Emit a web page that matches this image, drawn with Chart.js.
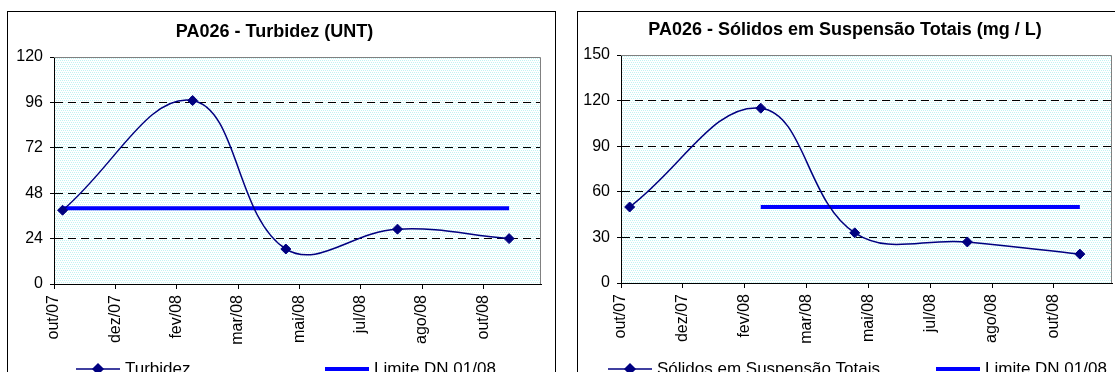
<!DOCTYPE html>
<html lang="pt-BR">
<head>
<meta charset="UTF-8">
<title>PA026 - Turbidez e Sólidos em Suspensão Totais</title>
<script src="https://cdn.jsdelivr.net/npm/chart.js@4.4.1/dist/chart.umd.min.js"></script>
<style>
    html, body {
        margin: 0;
        padding: 0;
        width: 1115px;
        height: 372px;
        overflow: hidden;
        background: #ffffff;
    }

    .chart-box {
        position: absolute;
        top: 11px;
        border: 1px solid #000000;
        background: #ffffff;
    }

    #boxTurbidez { left: 7px; width: 547px; height: 390px; }
    #boxSolidos { left: 577px; width: 550px; height: 390px; }

    canvas { display: block; }
</style>
</head>
<body>
<div class="chart-box" id="boxTurbidez"><canvas id="chartTurbidez" width="547" height="380"></canvas></div>
<div class="chart-box" id="boxSolidos"><canvas id="chartSolidos" width="550" height="380"></canvas></div>

<script>
// Datas das coletas (estimadas a partir da posição dos pontos)
const datasColeta = ['2007-11-01', '2008-02-15', '2008-05-01', '2008-07-31', '2008-10-30'];

// Séries
const turbidez = [39, 97, 18.5, 29, 24];
const limiteTurbidez = [40, 40, 40, 40, 40];
const solidos = [50, 115, 33, 27, 19];
const limiteSolidos = [null, 50, 50, 50, 50];

// Eixo X (datas, passo de 50 dias como no Excel)
const rotulosEixoX = ['out/07', 'dez/07', 'fev/08', 'mar/08', 'mai/08', 'jul/08', 'ago/08', 'out/08'];
const inicioEixo = '2007-10-25';
const fimEixo = '2008-11-25';
const passoDias = 50;

// Eixo Y
const ticksTurbidez = [0, 24, 48, 72, 96, 120];
const ticksSolidos = [0, 30, 60, 90, 120, 150];

const FONTE = "'Liberation Sans', Arial, Helvetica, sans-serif";
Chart.defaults.font.family = FONTE;
Chart.defaults.color = '#000000';

// Converte 'aaaa-mm-dd' em número de dias
function diaNum(s) {
    const [a, m, d] = s.split('-').map(Number);
    return Date.UTC(a, m - 1, d) / 86400000;
}

function pontos(valores) {
    return datasColeta.map((d, i) => ({ x: diaNum(d), y: valores[i] }));
}

// Fundo pontilhado da área de plotagem (estilo Excel)
function criarPadrao(ctx) {
    const c = document.createElement('canvas');
    c.width = 4;
    c.height = 4;
    const p = c.getContext('2d');
    p.fillStyle = '#ffffff';
    p.fillRect(0, 0, 4, 4);
    p.fillStyle = '#c0f4f4';
    p.fillRect(0, 0, 1, 1);
    p.fillRect(2, 0, 1, 1);
    p.fillRect(1, 2, 1, 1);
    p.fillRect(3, 2, 1, 1);
    return ctx.createPattern(c, 'repeat');
}

const fundoPlot = {
    id: 'fundoPlot',
    beforeDraw(chart) {
        const { ctx, chartArea: a } = chart;
        ctx.save();
        ctx.fillStyle = criarPadrao(ctx);
        ctx.fillRect(a.left, a.top, a.width, a.height);
        ctx.restore();
    },
    beforeDatasetsDraw(chart) {
        // borda cinza superior e direita
        const { ctx, chartArea: a } = chart;
        ctx.save();
        ctx.strokeStyle = '#808080';
        ctx.lineWidth = 1;
        ctx.beginPath();
        ctx.moveTo(a.left, a.top + 0.5);
        ctx.lineTo(a.right - 0.5, a.top + 0.5);
        ctx.lineTo(a.right - 0.5, a.bottom);
        ctx.stroke();
        ctx.restore();
    }
};

// Legenda desenhada à mão, com itens espaçados como no Excel
const legendaExcel = {
    id: 'legendaExcel',
    afterDraw(chart, args, opts) {
        const { ctx } = chart;
        ctx.save();
        ctx.font = '17px ' + FONTE;
        ctx.textBaseline = 'middle';
        ctx.fillStyle = '#000000';
        chart.data.datasets.forEach((ds, i) => {
            const x = opts.posicoes[i];
            const y = opts.y;
            ctx.strokeStyle = ds.borderColor;
            ctx.lineWidth = ds.borderWidth;
            ctx.beginPath();
            ctx.moveTo(x, y);
            ctx.lineTo(x + opts.largura, y);
            ctx.stroke();
            if (ds.pointRadius > 0) {
                Chart.helpers.drawPoint(ctx, {
                    pointStyle: ds.pointStyle,
                    radius: ds.pointRadius,
                    borderWidth: 1
                }, x + opts.largura / 2, y);
                ctx.fillStyle = ds.pointBackgroundColor;
                ctx.fill();
            }
            ctx.fillStyle = '#000000';
            ctx.fillText(ds.label, x + opts.largura + 5, y);
        });
        ctx.restore();
    }
};

function criarGrafico(canvasId, cfg) {
    const canvas = document.getElementById(canvasId);
    const ticksY = cfg.ticksY;
    const maxY = ticksY[ticksY.length - 1];
    const x0 = diaNum(inicioEixo);

    return new Chart(canvas.getContext('2d'), {
        type: 'line',
        data: {
            datasets: [
                {
                    label: cfg.nomeSerie,
                    data: pontos(cfg.serie),
                    borderColor: '#000080',
                    borderWidth: 1.5,
                    tension: 0.4,
                    pointStyle: 'rectRot',
                    pointRadius: 5,
                    pointBackgroundColor: '#000080',
                    pointBorderColor: '#000080',
                    pointBorderWidth: 1
                },
                {
                    label: 'Limite DN 01/08',
                    data: pontos(cfg.limite),
                    borderColor: '#0000ff',
                    borderWidth: 4,
                    tension: 0,
                    pointRadius: 0
                }
            ]
        },
        options: {
            responsive: false,
            animation: false,
            events: [],
            layout: {
                padding: { left: 0, right: cfg.direita, top: 0, bottom: cfg.baixo }
            },
            plugins: {
                legend: { display: false },
                tooltip: { enabled: false },
                title: {
                    display: true,
                    text: cfg.titulo,
                    color: '#000000',
                    font: { size: 18, weight: 'bold' },
                    padding: cfg.tituloPadding
                },
                legendaExcel: { posicoes: cfg.legenda, y: 357, largura: 44 }
            },
            scales: {
                x: {
                    type: 'linear',
                    min: x0,
                    max: diaNum(fimEixo),
                    afterBuildTicks: s => {
                        s.ticks = rotulosEixoX.map((_, i) => ({ value: x0 + i * passoDias }));
                    },
                    afterFit: s => { s.height = 60; },
                    ticks: {
                        autoSkip: false,
                        minRotation: 90,
                        maxRotation: 90,
                        padding: 6,
                        color: '#000000',
                        font: { size: 16 },
                        callback: (v, i) => rotulosEixoX[i]
                    },
                    grid: {
                        drawOnChartArea: false,
                        drawTicks: true,
                        tickLength: 5,
                        tickColor: '#000000'
                    },
                    border: { color: '#000000', width: 1 }
                },
                y: {
                    min: 0,
                    max: maxY,
                    afterBuildTicks: s => {
                        s.ticks = ticksY.map(v => ({ value: v }));
                    },
                    afterFit: s => { s.width = cfg.larguraY; },
                    ticks: {
                        padding: 7,
                        color: '#000000',
                        font: { size: 16 }
                    },
                    grid: {
                        color: c => (c.tick && (c.tick.value === 0 || c.tick.value === maxY)) ? 'rgba(0,0,0,0)' : '#000000',
                        lineWidth: 1,
                        drawTicks: true,
                        tickLength: 4,
                        tickColor: '#000000'
                    },
                    border: { color: '#000000', width: 1, dash: [8, 5] }
                }
            }
        },
        plugins: [fundoPlot, legendaExcel]
    });
}

criarGrafico('chartTurbidez', {
    titulo: 'PA026 - Turbidez (UNT)',
    nomeSerie: 'Turbidez',
    serie: turbidez,
    limite: limiteTurbidez,
    ticksY: ticksTurbidez,
    larguraY: 46,
    direita: 14,
    baixo: 48,
    tituloPadding: { top: 9, bottom: 14.4 },
    legenda: [68, 317]
});

criarGrafico('chartSolidos', {
    titulo: 'PA026 - Sólidos em Suspensão Totais (mg / L)',
    nomeSerie: 'Sólidos em Suspensão Totais',
    serie: solidos,
    limite: limiteSolidos,
    ticksY: ticksSolidos,
    larguraY: 43,
    direita: 16,
    baixo: 49,
    tituloPadding: { top: 7, bottom: 14.4 },
    legenda: [30, 358]
});
</script>
</body>
</html>
